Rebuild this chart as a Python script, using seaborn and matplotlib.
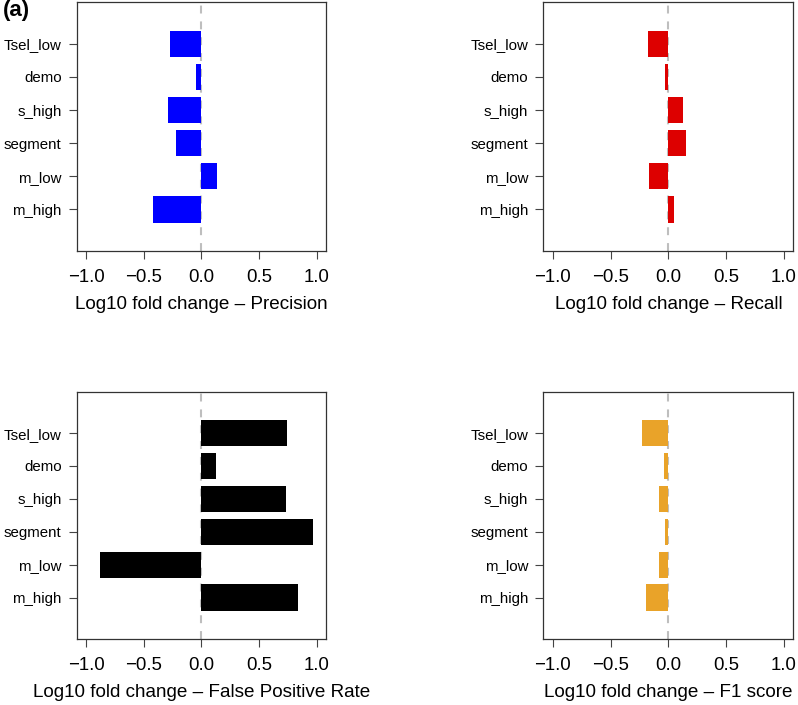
import matplotlib
matplotlib.use("Agg")
import matplotlib.pyplot as plt
import seaborn as sns
import pandas as pd

categories = ["Tsel_low", "demo", "s_high", "segment", "m_low", "m_high"]

precision = [-0.275, -0.052, -0.292, -0.223, 0.133, -0.417]
recall = [-0.173, -0.026, 0.130, 0.153, -0.170, 0.049]
fpr = [0.744, 0.127, 0.735, 0.969, -0.877, 0.833]
f1 = [-0.225, -0.037, -0.081, -0.032, -0.081, -0.193]

panels = [
    ("Precision", precision, "#0000FF"),
    ("Recall", recall, "#DD0000"),
    ("False Positive Rate", fpr, "#000000"),
    ("F1 score", f1, "#E9A329"),
]

sns.set_style("ticks")
plt.rcParams["font.family"] = ["Liberation Sans", "DejaVu Sans"]
plt.rcParams["text.color"] = "black"
plt.rcParams["axes.labelcolor"] = "black"

fig = plt.figure(figsize=(7.98, 7.05), dpi=100)

# axes boxes in figure fractions (left, bottom, width, height)
boxes = [
    [0.0965, 0.644, 0.312, 0.353],
    [0.681, 0.644, 0.313, 0.353],
    [0.0965, 0.0935, 0.312, 0.351],
    [0.681, 0.0935, 0.313, 0.351],
]

for (name, vals, col), box in zip(panels, boxes):
    ax = fig.add_axes(box)
    df = pd.DataFrame({"cat": categories, "val": vals})
    sns.barplot(data=df, x="val", y="cat", orient="h", color=col,
                saturation=1, width=0.8, linewidth=0, ax=ax, zorder=2)
    ax.set_xlim(-1.08, 1.08)
    ax.set_ylim(5 + 1.26, -1.26)
    ax.axvline(0, color="#BEBEBE", lw=1.5, ls=(0, (3.8, 3.8)), zorder=1)
    ax.set_xticks([-1.0, -0.5, 0.0, 0.5, 1.0])
    ax.set_xticklabels(["\u22121.0", "\u22120.5", "0.0", "0.5", "1.0"])
    ax.set_xlabel(f"Log10 fold change \u2013 {name}", fontsize=13.6, labelpad=7)
    ax.set_ylabel("")
    ax.tick_params(axis="x", labelsize=13.4, length=6, width=0.8,
                   color="#444444", labelcolor="black", pad=7)
    ax.tick_params(axis="y", labelsize=10.8, length=6, width=0.8,
                   color="#444444", labelcolor="black", pad=5)
    for sp in ax.spines.values():
        sp.set_visible(True)
        sp.set_linewidth(0.9)
        sp.set_color("#333333")

fig.text(0.004, 0.985, "(a)", fontsize=16, fontweight="bold",
         ha="left", va="center")

fig.savefig("out.png", dpi=100)
